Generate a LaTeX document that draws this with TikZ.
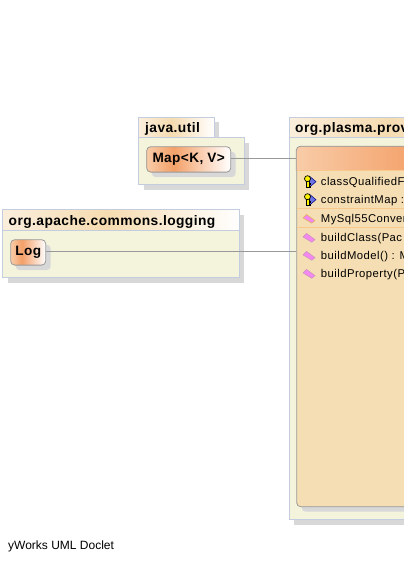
\documentclass[tikz,border=0pt]{standalone}
\usepackage{fontspec}
\setmainfont{Liberation Sans}
\newfontfamily\memberfont[LetterSpace=4]{Liberation Sans}
\newfontfamily\titlefont[LetterSpace=3]{Liberation Sans}
\usetikzlibrary{shadows}
\definecolor{pkgfill}{HTML}{F4F4DC}
\definecolor{pkgline}{HTML}{C4CCE0}
\definecolor{shadowgray}{HTML}{D8D8D8}
\definecolor{classfill}{HTML}{F5DEB3}
\definecolor{classline}{HTML}{999999}
\definecolor{hot}{HTML}{F4A068}
\definecolor{pale}{HTML}{F8CCA8}
\definecolor{tabmid}{HTML}{F5DBB0}
\definecolor{tabedge}{HTML}{FAEEDC}
\definecolor{methodpink}{HTML}{F488F0}
\definecolor{keyblue}{HTML}{6C74E4}
\definecolor{methodedge}{HTML}{C890C0}
\definecolor{ctoredge}{HTML}{D8B850}
\pgfdeclarehorizontalshading{classshade}{100bp}{color(0bp)=(pale); color(25bp)=(pale); color(41bp)=(hot); color(75bp)=(white); color(100bp)=(white)}
\pgfdeclarehorizontalshading{tabshade}{100bp}{color(0bp)=(tabedge); color(25bp)=(tabedge); color(47bp)=(tabmid); color(75bp)=(white); color(100bp)=(white)}
\tikzset{
  boxshadow/.style={drop shadow={shadow xshift=5pt,shadow yshift=-5pt,fill=shadowgray,opacity=1}},
  pkgbody/.style={draw=pkgline,fill=pkgfill,line width=0.8pt,inner sep=0pt,anchor=north west,boxshadow},
  pkgtab/.style={draw=pkgline,line width=0.8pt,inner sep=0pt,anchor=north west,boxshadow,shading=tabshade},
  pkgtitle/.style={anchor=base west,inner sep=0pt,font=\titlefont\bfseries\fontsize{13.8}{15}\selectfont},
  classnode/.style={draw=classline,rounded corners=4pt,line width=0.8pt,inner sep=0pt,anchor=north west,
    boxshadow,shading=classshade,font=\titlefont\bfseries\fontsize{13.6}{15}\selectfont},
  membertext/.style={anchor=west,inner sep=0pt,font=\memberfont\fontsize{11.3}{13}\selectfont},
  link/.style={draw=classline,line width=0.8pt},
  divider/.style={draw=tabmid!80!orange,line width=0.8pt},
  methodmark/.pic={
    \filldraw[draw=#1,fill=methodpink,line width=0.5pt] (-6,-0.8) -- (-2.5,-4.3) -- (6,2) -- (2.8,4.5) -- cycle;
  },
  keymark/.pic={
    \filldraw[draw=blue!50!black,fill=keyblue,line width=0.5pt] (0.5,-5.5) -- (7,0) -- (0.5,5.5) -- cycle;
    \filldraw[draw=black,fill=yellow,line width=0.7pt] (-3,-1) -- (-3,6) -- (1.5,6) -- (1.5,4.5) -- (0,4.5) -- (0,3) -- (1.5,3) -- (1.5,1.5) -- (0,1.5) -- (0,-1) -- cycle;
    \filldraw[draw=black,fill=yellow,line width=0.7pt] (-1.5,-3) circle[radius=3];
  }
}
\begin{document}
\begin{tikzpicture}[x=1pt,y=-1pt]
  \clip (0,0) rectangle (404,562);

  % java.util
  \node[pkgtab,minimum width=75.4pt,minimum height=21pt] (utiltab) at (138.3,116.7) {};
  \node[pkgbody,minimum width=105.4pt,minimum height=47pt] (utilbody) at (138.3,137.3) {};
  \node[pkgtitle] (utiltitle) at (145,132) {java.util};
  \node[classnode,minimum width=84pt,minimum height=25.4pt] (map) at (146.3,146.3) {Map<K, V>};

  % logging
  \node[pkgtab,minimum width=236.4pt,minimum height=21pt] (logtab) at (2.3,209.3) {};
  \node[pkgbody,minimum width=236.4pt,minimum height=47pt] (logbody) at (2.3,230.3) {};
  \node[pkgtitle] (logtitle) at (8.5,225) {org.apache.commons.logging};
  \node[classnode,minimum width=35pt,minimum height=25.4pt] (log) at (10.3,239.3) {Log};

  % provider package, runs off the page
  \node[pkgtab,minimum width=226pt,minimum height=21pt] (provtab) at (288.7,116.7) {};
  \node[pkgbody,minimum width=226pt,minimum height=382pt] (provbody) at (288.7,137.3) {};
  \node[pkgtitle] (provtitle) at (295,132) {org.plasma.prov};

  \node[draw=classline,fill=classfill,rounded corners=4pt,line width=0.8pt,inner sep=0pt,anchor=north west,
    boxshadow,minimum width=208pt,minimum height=360pt] (prov) at (296.3,146.3) {};
  \shade[left color=pale,right color=hot,rounded corners=4pt,draw=classline,line width=0.8pt]
    (296.3,170.7) -- (296.3,146.3) -- (420,146.3) -- (420,170.7);
  \draw[divider] (296.7,170.7) -- (404,170.7);
  \draw[divider] (296.7,208.7) -- (404,208.7);
  \draw[divider] (296.7,227.7) -- (404,227.7);

  \foreach \y/\r/\t in {181.7/fieldone/classQualifiedF,199.7/fieldtwo/constraintMap :}
    {
    \pic at (309,\y) {keymark};
    \node[membertext] (\r) at (320.7,\y+1) {\t};
    }
  \pic at (309,218.7) {methodmark=ctoredge};
  \node[membertext] (ctor) at (320.7,219.7) {MySql55Conver};
  \foreach \y/\r/\t in {237.7/methodone/buildClass(Pac,255.7/methodtwo/buildModel() : M,273.7/methodthree/buildProperty(P}
    {
    \pic at (309,\y) {methodmark=methodedge};
    \node[membertext] (\r) at (320.7,\y+1) {\t};
    }

  \draw[link] ([yshift=0.7pt]map.east) -- ([yshift=0.7pt]map.east -| prov.west);
  \draw[link] ([yshift=0.7pt]log.east) -- ([yshift=0.7pt]log.east -| prov.west);

  \node[anchor=base west,inner sep=0pt,font=\fontsize{12}{14}\selectfont] (footer) at (8,549.5) {yWorks UML Doclet};
\end{tikzpicture}
\end{document}
